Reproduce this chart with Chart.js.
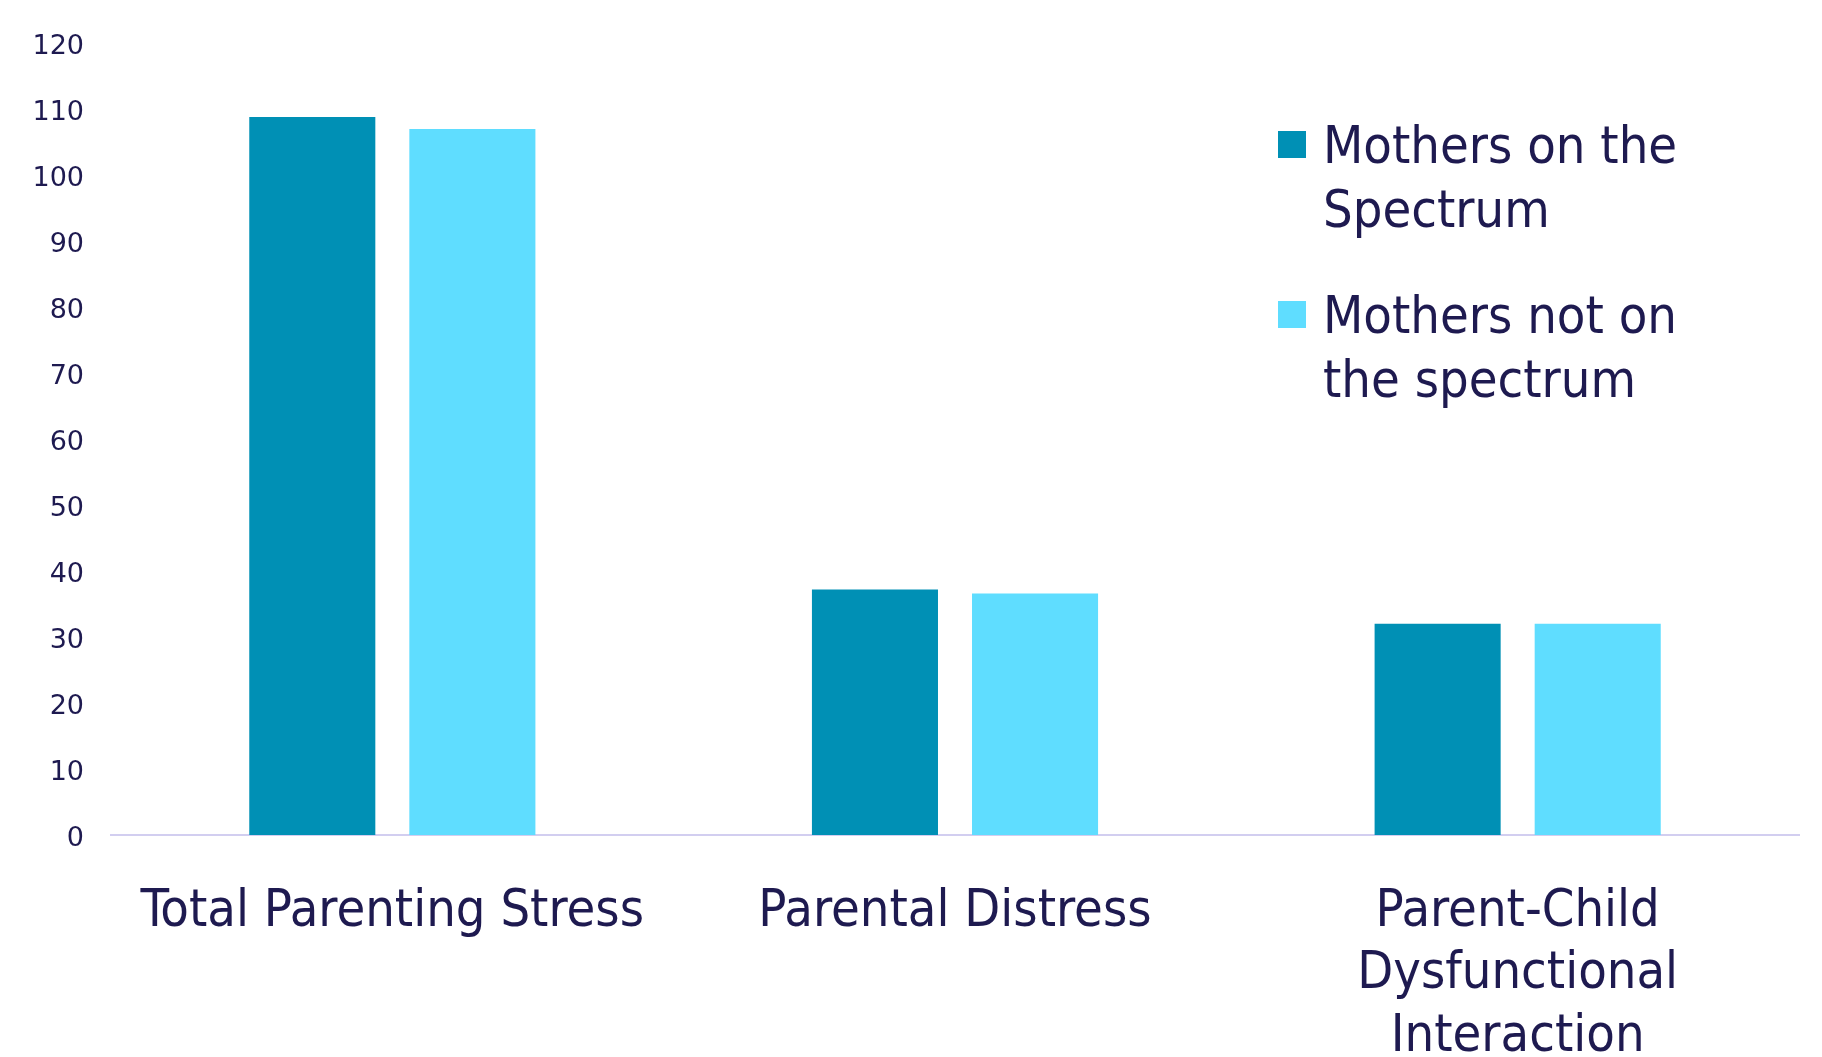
<!DOCTYPE html>
<html>
<head>
<meta charset="utf-8">
<script src="https://cdn.jsdelivr.net/npm/chart.js@4/dist/chart.umd.min.js"></script>
<style>
  body { margin: 0; background: #ffffff; }
  canvas { display: block; }
</style>
</head>
<body>
<canvas id="myChart" width="1822" height="1057"></canvas>
<script>
// Datos del gráfico
var categorias = ['Total Parenting Stress', 'Parental Distress', ['Parent-Child', 'Dysfunctional', 'Interaction']];
var seriesNames = [['Mothers on the', 'Spectrum'], ['Mothers not on', 'the spectrum']];
var enEspectro = [108.8, 37.2, 32.0];
var sinEspectro = [107.0, 36.6, 32.0];
var yMax = 120;
var yStep = 10;

var textColor = '#1E1A50';
var narrowFont = '"DejaVu Sans Condensed", "DejaVu Sans", sans-serif';

// Leyenda dibujada encima del área del gráfico (como en el original)
var overlayLegend = {
    id: 'overlayLegend',
    afterDraw: function(chart) {
        var ctx = chart.ctx;
        ctx.save();
        ctx.font = '52px ' + narrowFont;
        ctx.textBaseline = 'alphabetic';
        ctx.textAlign = 'left';
        chart.data.datasets.forEach(function(ds, i) {
            var base = 163 + i * 170;
            ctx.fillStyle = ds.backgroundColor;
            ctx.fillRect(1278, base - 32, 28, 27);
            ctx.fillStyle = textColor;
            ds.label.forEach(function(line, j) {
                ctx.fillText(line, 1323, base + j * 64);
            });
        });
        ctx.restore();
    }
};

var ctx = document.getElementById('myChart').getContext('2d');
var myChart = new Chart(ctx, {
    type: 'bar',
    data: {
        labels: categorias,
        datasets: [{
            label: seriesNames[0],
            data: enEspectro,
            backgroundColor: '#0090B5'
        }, {
            label: seriesNames[1],
            data: sinEspectro,
            backgroundColor: '#5FDDFF'
        }]
    },
    options: {
        responsive: false,
        animation: false,
        categoryPercentage: 0.569,
        barPercentage: 0.7875,
        layout: { padding: { top: 43, right: 23, bottom: 0, left: 0 } },
        plugins: {
            legend: { display: false },
            tooltip: { enabled: false }
        },
        scales: {
            y: {
                min: 0,
                max: yMax,
                grid: { display: false, drawTicks: false },
                border: { display: false },
                ticks: {
                    stepSize: yStep,
                    padding: 27,
                    labelOffset: 4,
                    color: textColor,
                    font: { family: '"DejaVu Sans", sans-serif', size: 27 }
                },
                afterFit: function(scale) { scale.width = 111; }
            },
            x: {
                grid: { display: false, drawTicks: false },
                border: { display: true, color: '#D2CEF0', width: 2 },
                ticks: {
                    padding: 46,
                    maxRotation: 0,
                    autoSkip: false,
                    color: textColor,
                    font: { family: narrowFont, size: 52, lineHeight: 1.2 }
                },
                afterFit: function(scale) { scale.height = 222; }
            }
        }
    },
    plugins: [overlayLegend]
});
</script>
</body>
</html>
